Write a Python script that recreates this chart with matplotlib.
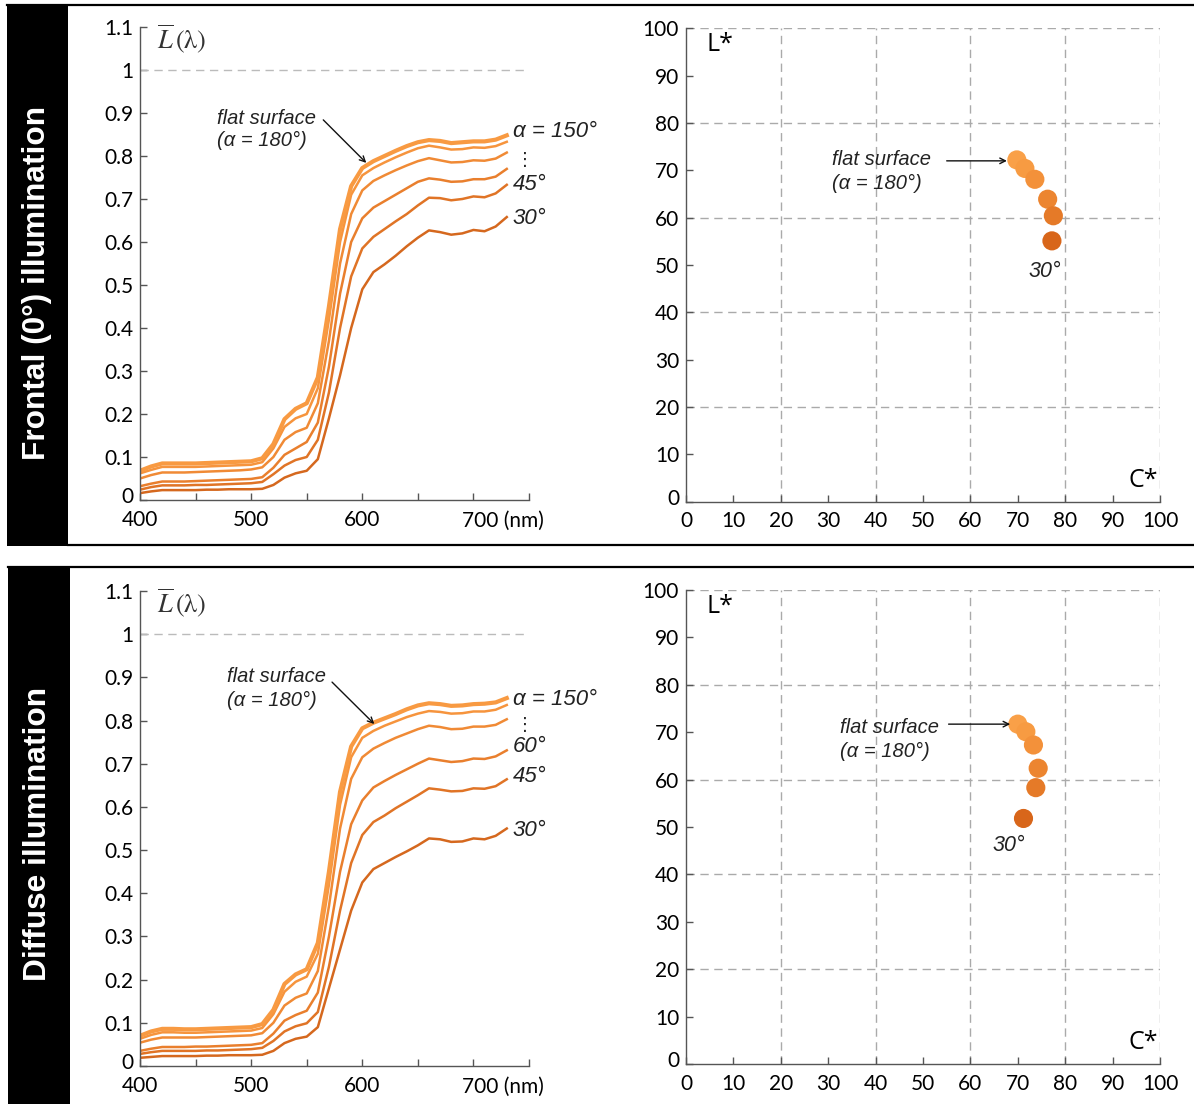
import matplotlib
matplotlib.use('Agg')
import matplotlib.pyplot as plt
from matplotlib.lines import Line2D
from matplotlib.patches import Rectangle
from matplotlib.transforms import ScaledTranslation

# ---------------- data ----------------
wavelengths = list(range(400, 731, 10))
angles = ['180', '150', '90', '60', '45', '30']

frontal_180 = [0.068, 0.078, 0.085, 0.085, 0.085, 0.085, 0.086, 0.087, 0.088, 0.089, 0.090, 0.097, 0.130, 0.188, 0.212, 0.225,
               0.285, 0.450, 0.630, 0.730, 0.772, 0.788, 0.800, 0.812, 0.823, 0.832, 0.837, 0.835, 0.830, 0.832, 0.834, 0.834, 0.838, 0.848]
frontal_150 = [0.062, 0.070, 0.077, 0.077, 0.077, 0.077, 0.078, 0.079, 0.080, 0.081, 0.082, 0.088, 0.120, 0.170, 0.190, 0.200,
               0.260, 0.420, 0.600, 0.710, 0.755, 0.772, 0.785, 0.797, 0.808, 0.818, 0.824, 0.820, 0.815, 0.816, 0.820, 0.819, 0.823, 0.833]
frontal_90 = [0.050, 0.058, 0.064, 0.064, 0.064, 0.065, 0.066, 0.067, 0.068, 0.069, 0.071, 0.076, 0.100, 0.140, 0.158, 0.168,
              0.225, 0.370, 0.550, 0.665, 0.720, 0.742, 0.755, 0.767, 0.778, 0.788, 0.795, 0.790, 0.785, 0.786, 0.790, 0.789, 0.794, 0.808]
frontal_60 = [0.032, 0.038, 0.043, 0.043, 0.043, 0.044, 0.045, 0.046, 0.047, 0.048, 0.049, 0.053, 0.075, 0.105, 0.120, 0.135,
              0.180, 0.310, 0.480, 0.600, 0.655, 0.680, 0.695, 0.710, 0.725, 0.740, 0.748, 0.745, 0.740, 0.741, 0.746, 0.746, 0.752, 0.770]
frontal_45 = [0.024, 0.030, 0.034, 0.034, 0.034, 0.035, 0.035, 0.036, 0.037, 0.038, 0.039, 0.042, 0.060, 0.080, 0.093, 0.100,
              0.140, 0.250, 0.400, 0.520, 0.585, 0.612, 0.630, 0.648, 0.665, 0.685, 0.703, 0.702, 0.697, 0.700, 0.706, 0.704, 0.713, 0.733]
frontal_30 = [0.016, 0.020, 0.023, 0.023, 0.023, 0.023, 0.024, 0.024, 0.025, 0.025, 0.025, 0.026, 0.035, 0.052, 0.062, 0.068,
              0.095, 0.190, 0.290, 0.400, 0.490, 0.530, 0.548, 0.568, 0.590, 0.610, 0.627, 0.623, 0.617, 0.620, 0.628, 0.625, 0.636, 0.658]

diffuse_180 = [0.070, 0.080, 0.086, 0.086, 0.085, 0.085, 0.086, 0.087, 0.088, 0.089, 0.090, 0.097, 0.130, 0.190, 0.212, 0.224,
               0.285, 0.450, 0.635, 0.740, 0.782, 0.795, 0.805, 0.815, 0.826, 0.835, 0.840, 0.838, 0.834, 0.835, 0.838, 0.839, 0.842, 0.852]
diffuse_150 = [0.063, 0.072, 0.078, 0.078, 0.077, 0.077, 0.078, 0.079, 0.080, 0.081, 0.082, 0.088, 0.120, 0.172, 0.195, 0.207,
               0.260, 0.420, 0.605, 0.715, 0.760, 0.776, 0.788, 0.798, 0.808, 0.816, 0.822, 0.820, 0.816, 0.817, 0.821, 0.821, 0.825, 0.836]
diffuse_90 = [0.054, 0.061, 0.066, 0.066, 0.066, 0.066, 0.067, 0.068, 0.069, 0.070, 0.071, 0.076, 0.100, 0.140, 0.158, 0.168,
              0.220, 0.370, 0.550, 0.665, 0.715, 0.735, 0.748, 0.760, 0.770, 0.780, 0.788, 0.785, 0.780, 0.781, 0.786, 0.786, 0.790, 0.803]
diffuse_60 = [0.035, 0.040, 0.044, 0.044, 0.044, 0.045, 0.045, 0.046, 0.047, 0.048, 0.049, 0.053, 0.075, 0.105, 0.118, 0.128,
              0.170, 0.300, 0.450, 0.560, 0.615, 0.645, 0.660, 0.674, 0.687, 0.700, 0.712, 0.708, 0.704, 0.706, 0.712, 0.711, 0.717, 0.731]
diffuse_45 = [0.028, 0.032, 0.035, 0.035, 0.035, 0.035, 0.036, 0.036, 0.037, 0.038, 0.039, 0.042, 0.058, 0.080, 0.092, 0.099,
              0.125, 0.230, 0.360, 0.470, 0.535, 0.565, 0.580, 0.597, 0.612, 0.627, 0.643, 0.640, 0.636, 0.637, 0.643, 0.642, 0.648, 0.664]
diffuse_30 = [0.019, 0.021, 0.023, 0.023, 0.023, 0.023, 0.024, 0.024, 0.025, 0.025, 0.025, 0.026, 0.035, 0.053, 0.063, 0.068,
              0.090, 0.180, 0.270, 0.360, 0.425, 0.456, 0.470, 0.484, 0.497, 0.511, 0.527, 0.525, 0.519, 0.520, 0.527, 0.525, 0.533, 0.550]

frontal_C = [69.8, 71.5, 73.6, 76.3, 77.5, 77.2]
frontal_L = [72.2, 70.4, 68.1, 63.9, 60.4, 55.1]
diffuse_C = [70.0, 71.7, 73.3, 74.3, 73.8, 71.2]
diffuse_L = [71.7, 70.1, 67.3, 62.4, 58.3, 51.8]

spec_yticks = [0, 0.1, 0.2, 0.3, 0.4, 0.5, 0.6, 0.7, 0.8, 0.9, 1.0, 1.1]
spec_yticklabels = ['0', '0.1', '0.2', '0.3', '0.4', '0.5', '0.6', '0.7', '0.8', '0.9', '1', '1.1']
spec_xticks = [400, 450, 500, 550, 600, 650, 700, 750]
spec_xticklabels = ['400', '', '500', '', '600', '', '', '']
lc_ticks = list(range(0, 101, 10))
lc_grid = [20, 40, 60, 80, 100]

# ---------------- style ----------------
line_colors = ['#F89A42', '#F6943D', '#F08A35', '#E97F2D', '#E07426', '#D5681E']
line_widths = [3.0, 1.8, 1.8, 1.8, 1.8, 1.8]
dot_colors = ['#F9A048', '#F79B42', '#F3913A', '#EC8530', '#E57A28', '#D8661A']
TICKFONT = ['Lato', 'DejaVu Sans']
TFS = 15
NARROW = ['Liberation Sans Narrow', 'Liberation Sans', 'DejaVu Sans']
plt.rcParams['mathtext.fontset'] = 'stix'

W, H = 1194, 1104
fig = plt.figure(figsize=(W / 100, H / 100), dpi=100)


def fx(px):
    return px / W


def fy(py):
    return 1 - py / H


# bands, separators
fig.patches.append(Rectangle((fx(7), fy(546)), fx(68) - fx(7), fy(5) - fy(546), transform=fig.transFigure,
                             facecolor='black', edgecolor='none', zorder=0))
fig.patches.append(Rectangle((fx(8), fy(1104)), fx(70) - fx(8), fy(567) - fy(1104), transform=fig.transFigure,
                             facecolor='black', edgecolor='none', zorder=0))
for (x0, yy) in [(7, 5), (68, 545), (8, 567)]:
    fig.lines.append(Line2D([fx(x0), 1], [fy(yy), fy(yy)], transform=fig.transFigure, color='black', lw=1.6))

fig.text(fx(37), fy(283), 'Frontal (0°) illumination', rotation=90, color='white', fontsize=22.8,
         fontweight='bold', family=['Liberation Sans', 'DejaVu Sans'], ha='center', va='center')
fig.text(fx(38), fy(834), 'Diffuse illumination', rotation=90, color='white', fontsize=22.8,
         fontweight='bold', family=['Liberation Sans', 'DejaVu Sans'], ha='center', va='center')


def style_spec(ax):
    ax.set_xlim(400, 750)
    ax.set_ylim(0, 1.1)
    for s in ['top', 'right']:
        ax.spines[s].set_visible(False)
    for s in ['left', 'bottom']:
        ax.spines[s].set_color('#555555')
        ax.spines[s].set_linewidth(1.0)
    ax.set_yticks(spec_yticks)
    ax.set_yticklabels(spec_yticklabels, family=TICKFONT, fontsize=TFS)
    ax.set_xticks(spec_xticks)
    ax.set_xticklabels(spec_xticklabels, family=TICKFONT, fontsize=TFS)
    ax.tick_params(direction='in', length=5, width=1, color='#555555')
    ax.tick_params(axis='y', pad=5)
    ax.tick_params(axis='x', pad=7)
    ax.axhline(1.0, color='#BBBBBB', lw=1.0, dashes=(6, 4))
    ax.text(690, -0.025, '700 (nm)', family=TICKFONT, fontsize=TFS, ha='left', va='top')
    ax.text(415, 1.072, r'$\overline{L}\,(\mathrm{\lambda})$', fontsize=19, ha='left', va='center', color='#333333')
    ax.patch.set_alpha(0)


def style_lc(ax):
    ax.set_xlim(0, 100)
    ax.set_ylim(0, 100)
    for s in ['top', 'right']:
        ax.spines[s].set_visible(False)
    for s in ['left', 'bottom']:
        ax.spines[s].set_color('#555555')
        ax.spines[s].set_linewidth(1.0)
    ax.set_xticks(lc_ticks)
    ax.set_yticks(lc_ticks)
    ax.set_xticklabels([str(t) for t in lc_ticks], family=TICKFONT, fontsize=TFS)
    ax.set_yticklabels([str(t) for t in lc_ticks], family=TICKFONT, fontsize=TFS)
    ax.tick_params(direction='in', length=5, width=1, color='#555555')
    ax.tick_params(axis='y', pad=5)
    ax.tick_params(axis='x', pad=7)
    for g in lc_grid:
        ax.axvline(g, color='#AAAAAA', lw=1.0, dashes=(6, 4), zorder=0)
        ax.axhline(g, color='#AAAAAA', lw=1.0, dashes=(6, 4), zorder=0)
    ax.text(4.3, 96.5, 'L*', family=['Open Sans', 'DejaVu Sans'], fontsize=18, ha='left', va='center')
    ax.text(99.5, 4.5, 'C*', family=['Open Sans', 'DejaVu Sans'], fontsize=18, ha='right', va='center')
    ax.patch.set_alpha(0)


def annot_style():
    return dict(family=NARROW, style='italic', color='#222222')


# ---------- top-left spectra ----------
ax1 = fig.add_axes([fx(140), fy(500), fx(529) - fx(140), fy(27) - fy(500)])
style_spec(ax1)
for vals, c, lw in zip([frontal_30, frontal_45, frontal_60, frontal_90, frontal_150, frontal_180],
                       line_colors[::-1], line_widths[::-1]):
    ax1.plot(wavelengths, vals, color=c, lw=lw, solid_joinstyle='round')
ax1.text(469, 0.888, 'flat surface', fontsize=14.5, ha='left', va='center', **annot_style())
ax1.text(469, 0.835, '(α = 180°)', fontsize=14.5, ha='left', va='center', **annot_style())
ax1.annotate('', xy=(603.6, 0.784), xytext=(564.9, 0.884),
             arrowprops=dict(arrowstyle='->', color='#111111', lw=1.0, shrinkA=0, shrinkB=0))
ax1.text(735.5, 0.856, 'α = 150°', fontsize=16, ha='left', va='center', **annot_style())
ax1.text(746, 0.79, '⋮', fontsize=13, ha='center', va='center', color='#222222')
ax1.text(735.5, 0.733, '45°', fontsize=16, ha='left', va='center', **annot_style())
ax1.text(735.5, 0.655, '30°', fontsize=16, ha='left', va='center', **annot_style())

# ---------- bottom-left spectra ----------
ax3 = fig.add_axes([fx(140), fy(1066), fx(529) - fx(140), fy(591) - fy(1066)])
style_spec(ax3)
for vals, c, lw in zip([diffuse_30, diffuse_45, diffuse_60, diffuse_90, diffuse_150, diffuse_180],
                       line_colors[::-1], line_widths[::-1]):
    ax3.plot(wavelengths, vals, color=c, lw=lw, solid_joinstyle='round')
ax3.text(478.4, 0.903, 'flat surface', fontsize=14.5, ha='left', va='center', **annot_style())
ax3.text(478.4, 0.847, '(α = 180°)', fontsize=14.5, ha='left', va='center', **annot_style())
ax3.annotate('', xy=(610.8, 0.792), xytext=(572.8, 0.889),
             arrowprops=dict(arrowstyle='->', color='#111111', lw=1.0, shrinkA=0, shrinkB=0))
ax3.text(735.5, 0.848, 'α = 150°', fontsize=16, ha='left', va='center', **annot_style())
ax3.text(746, 0.789, '⋮', fontsize=13, ha='center', va='center', color='#222222')
ax3.text(735.5, 0.739, '60°', fontsize=16, ha='left', va='center', **annot_style())
ax3.text(735.5, 0.670, '45°', fontsize=16, ha='left', va='center', **annot_style())
ax3.text(735.5, 0.546, '30°', fontsize=16, ha='left', va='center', **annot_style())

# ---------- top-right L*C* ----------
ax2 = fig.add_axes([fx(686), fy(501.7), fx(1160) - fx(686), fy(28.3) - fy(501.7)])
style_lc(ax2)
ax2.scatter(frontal_C, frontal_L, s=190, c=dot_colors, edgecolors='none', zorder=3)
ax2.text(30.7, 72.3, 'flat surface', fontsize=14.5, ha='left', va='center', **annot_style())
ax2.text(30.7, 67.3, '(α = 180°)', fontsize=14.5, ha='left', va='center', **annot_style())
ax2.annotate('', xy=(67.7, 72.0), xytext=(55.0, 72.0),
             arrowprops=dict(arrowstyle='->', color='#111111', lw=1.0, shrinkA=0, shrinkB=0))
ax2.text(75.7, 48.6, '30°', fontsize=15.5, ha='center', va='center', **annot_style())

# ---------- bottom-right L*C* ----------
ax4 = fig.add_axes([fx(686), fy(1064), fx(1160) - fx(686), fy(590) - fy(1064)])
style_lc(ax4)
ax4.scatter(diffuse_C, diffuse_L, s=190, c=dot_colors, edgecolors='none', zorder=3)
ax4.text(32.5, 71.0, 'flat surface', fontsize=14.5, ha='left', va='center', **annot_style())
ax4.text(32.5, 65.9, '(α = 180°)', fontsize=14.5, ha='left', va='center', **annot_style())
ax4.annotate('', xy=(68.4, 71.7), xytext=(55.4, 71.7),
             arrowprops=dict(arrowstyle='->', color='#111111', lw=1.0, shrinkA=0, shrinkB=0))
ax4.text(68.0, 46.2, '30°', fontsize=15.5, ha='center', va='center', **annot_style())

# nudge the "0" y tick labels upward, as in the reference
up = ScaledTranslation(0, 5 / 100, fig.dpi_scale_trans)
for ax in (ax1, ax2, ax3, ax4):
    lab = ax.yaxis.get_major_ticks()[0].label1
    lab.set_transform(lab.get_transform() + up)

fig.savefig('out.png', dpi=100)
